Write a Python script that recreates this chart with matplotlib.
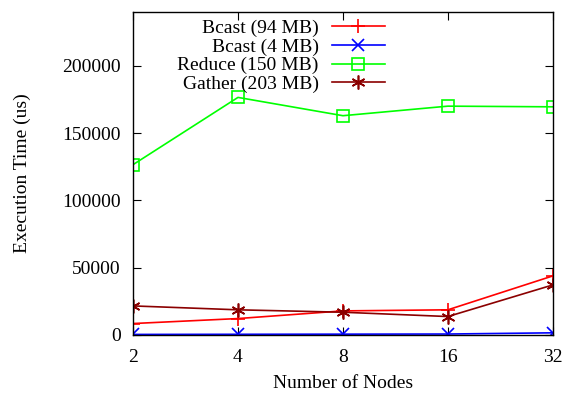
import numpy as np
import matplotlib.pyplot as plt

plt.rcParams['font.family'] = ['Liberation Serif', 'DejaVu Serif']

nodes = ['2', '4', '8', '16', '32']
bcast_94 = [8400, 12100, 17800, 18600, 43800]
bcast_4 = [300, 400, 500, 600, 1500]
reduce_150 = [126500, 176500, 162900, 170000, 169500]
gather_203 = [21500, 18600, 16800, 13600, 37100]

fig = plt.figure(figsize=(5.67, 3.93), dpi=100)
ax = fig.add_axes([0.2346, 0.148, 0.7404, 0.8215])

x = np.arange(len(nodes))
ax.plot(x, bcast_94, color='#ff0000', marker='+', ms=10, mew=1.2, lw=1.2, label='Bcast (94 MB)')
ax.plot(x, bcast_4, color='#0000ff', marker='x', ms=8, mew=1.2, lw=1.2, label='Bcast (4 MB)')
ax.plot(x, reduce_150, color='#00ff00', marker='s', ms=8, mfc='none', mew=1.2, lw=1.2, label='Reduce (150 MB)')
ax.plot(x, gather_203, color='#8b0000', marker=(6, 2, 0), ms=10, mew=1.2, lw=1.2, label='Gather (203 MB)')

ax.set_xlim(0, 4)
ax.set_ylim(0, 240000)
ax.set_xticks(x)
ax.set_xticklabels(nodes)
ax.set_yticks([0, 50000, 100000, 150000, 200000])
ax.tick_params(direction='in', top=True, right=True, labelsize=14, length=6)
ax.tick_params(axis='x', pad=10)
ax.tick_params(axis='y', pad=9)
for s in ax.spines.values():
    s.set_linewidth(1.0)

ax.set_xlabel('Number of Nodes', fontsize=14, labelpad=7)
ax.set_ylabel('Execution Time (us)', fontsize=14, labelpad=22)

ax.legend(loc='upper right', bbox_to_anchor=(0.699, 0.98), bbox_transform=fig.transFigure,
          frameon=False, markerfirst=False, fontsize=14, handlelength=2.7,
          labelspacing=0.05, borderpad=0.1, handletextpad=0.7)

fig.savefig('out.png', dpi=100)
